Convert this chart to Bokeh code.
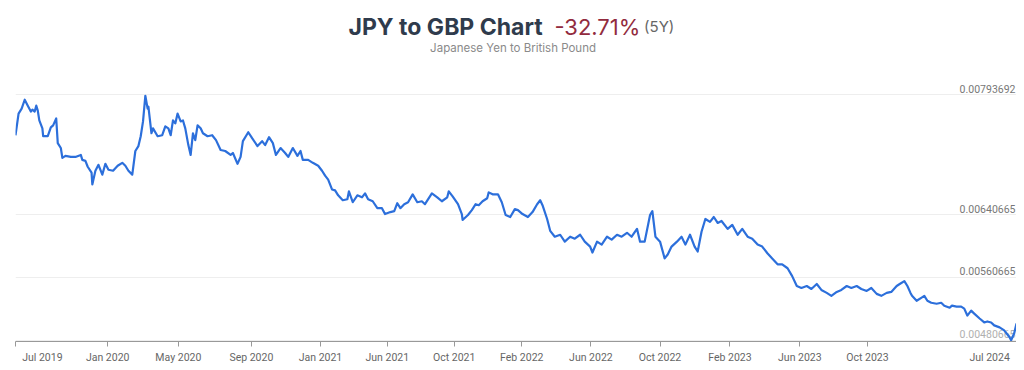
from bokeh.plotting import figure
from bokeh.models import Range1d, FixedTicker, Label, LinearAxis, ColumnDataSource, CustomLabelingPolicy
from bokeh.layouts import column
from bokeh.embed import file_html
from bokeh.resources import INLINE

# trading-day index and JPY->GBP rate
day_index = [0, 4, 8, 12, 16, 20, 22, 25, 27, 29, 31, 35, 36, 42, 46, 49, 53, 55, 59, 61,
             65, 72, 78, 85, 87, 91, 94, 99, 100, 104, 108, 113, 117, 121, 127, 133, 139, 143, 147, 152,
             156, 160, 163, 166, 169, 172, 173, 177, 179, 185, 191, 195, 199, 202, 205, 208, 211, 215, 218, 221,
             225, 228, 231, 234, 237, 241, 244, 250, 256, 261, 267, 273, 280, 283, 289, 293, 296, 303, 308, 315,
             321, 325, 330, 335, 339, 345, 351, 355, 361, 367, 371, 374, 381, 387, 394, 399, 403, 407, 412, 416,
             420, 426, 432, 434, 439, 445, 451, 455, 459, 465, 471, 477, 481, 488, 493, 497, 501, 506, 511, 517,
             523, 529, 533, 542, 549, 555, 562, 564, 569, 576, 581, 582, 589, 594, 599, 603, 608, 614, 616, 621,
             628, 633, 638, 644, 650, 654, 660, 667, 673, 679, 683, 686, 692, 696, 702, 709, 715, 722, 728, 735,
             741, 748, 751, 757, 763, 770, 776, 783, 789, 796, 802, 809, 813, 819, 826, 829, 833, 839, 845, 849,
             854, 861, 867, 872, 878, 884, 888, 893, 898, 904, 909, 914, 919, 927, 933, 940, 946, 953, 959, 966,
             972, 979, 985, 992, 998, 1005, 1011, 1017, 1023, 1030, 1036, 1043, 1049, 1056, 1062, 1069, 1075, 1082, 1088, 1095,
             1101, 1108, 1114, 1121, 1127, 1134, 1140, 1147, 1151, 1157, 1161, 1165, 1167, 1173, 1179, 1183, 1187, 1192, 1199, 1205,
             1209, 1216, 1219, 1225, 1231, 1235, 1239, 1244, 1248, 1255, 1261, 1265, 1270, 1274, 1281, 1287, 1294, 1296, 1300, 1303]

rate = [0.0074213, 0.0076978, 0.0077607, 0.0078738, 0.0077984, 0.0077229, 0.0077481, 0.0077229, 0.0077984, 0.0077355,
        0.0076098, 0.0075093, 0.0074087, 0.0074087, 0.0075218, 0.0075470, 0.0076350, 0.0073207, 0.0072579, 0.0071322,
        0.0071573, 0.0071447, 0.0071447, 0.0071699, 0.0071070, 0.0070944, 0.0070190, 0.0069436, 0.0067928, 0.0069687,
        0.0070442, 0.0069185, 0.0070567, 0.0069813, 0.0069687, 0.0070316, 0.0070693, 0.0070316, 0.0069687, 0.0069185,
        0.0072201, 0.0072830, 0.0074087, 0.0075972, 0.0079241, 0.0077607, 0.0077858, 0.0074464, 0.0075093, 0.0074087,
        0.0074213, 0.0075344, 0.0075093, 0.0074213, 0.0076098, 0.0075721, 0.0076978, 0.0075972, 0.0076098, 0.0075093,
        0.0072956, 0.0071699, 0.0074464, 0.0073584, 0.0075470, 0.0075093, 0.0074464, 0.0074087, 0.0074213, 0.0073584,
        0.0072327, 0.0072201, 0.0071699, 0.0071950, 0.0070567, 0.0071447, 0.0073458, 0.0074590, 0.0073836, 0.0072830,
        0.0073458, 0.0072956, 0.0073961, 0.0073207, 0.0071699, 0.0072579, 0.0071950, 0.0071447, 0.0072579, 0.0071573,
        0.0072201, 0.0071070, 0.0071070, 0.0070693, 0.0070316, 0.0069687, 0.0069059, 0.0068556, 0.0067299, 0.0067173,
        0.0066545, 0.0065916, 0.0066042, 0.0067048, 0.0065665, 0.0066545, 0.0066294, 0.0066796, 0.0066042, 0.0065791,
        0.0064911, 0.0064911, 0.0064157, 0.0064408, 0.0064534, 0.0065539, 0.0064911, 0.0065414, 0.0065665, 0.0066671,
        0.0065665, 0.0065791, 0.0065414, 0.0066796, 0.0066294, 0.0065791, 0.0066294, 0.0067048, 0.0066419, 0.0065414,
        0.0064157, 0.0063402, 0.0064031, 0.0064659, 0.0065414, 0.0065288, 0.0065791, 0.0066168, 0.0066922, 0.0066671,
        0.0066671, 0.0065665, 0.0064031, 0.0063780, 0.0064785, 0.0064659, 0.0064157, 0.0063780, 0.0064408, 0.0065414,
        0.0065916, 0.0065288, 0.0063528, 0.0062020, 0.0061266, 0.0061517, 0.0060637, 0.0061266, 0.0061014, 0.0061517,
        0.0060637, 0.0060009, 0.0059254, 0.0060637, 0.0060260, 0.0061266, 0.0060888, 0.0061517, 0.0061266, 0.0061768,
        0.0061266, 0.0062271, 0.0060637, 0.0060637, 0.0064031, 0.0064534, 0.0061266, 0.0060637, 0.0058500, 0.0059003,
        0.0060009, 0.0060637, 0.0061266, 0.0060260, 0.0061517, 0.0060009, 0.0059380, 0.0061894, 0.0063528, 0.0063151,
        0.0063780, 0.0063025, 0.0063277, 0.0062271, 0.0062774, 0.0061517, 0.0062271, 0.0061266, 0.0061014, 0.0060260,
        0.0060009, 0.0059129, 0.0058500, 0.0057746, 0.0057746, 0.0057243, 0.0056238, 0.0054981, 0.0054729, 0.0054981,
        0.0054603, 0.0055232, 0.0054478, 0.0054101, 0.0053724, 0.0054226, 0.0054478, 0.0054981, 0.0054729, 0.0054981,
        0.0054603, 0.0054352, 0.0054729, 0.0053975, 0.0053724, 0.0054101, 0.0054226, 0.0054981, 0.0055232, 0.0055609,
        0.0054981, 0.0054101, 0.0053724, 0.0053095, 0.0053472, 0.0053724, 0.0053095, 0.0052844, 0.0052718, 0.0052844,
        0.0052467, 0.0052215, 0.0052467, 0.0052341, 0.0052341, 0.0052089, 0.0051210, 0.0051838, 0.0051461, 0.0050832,
        0.0050330, 0.0050455, 0.0050330, 0.0049953, 0.0049701, 0.0049324, 0.0048444, 0.0048067, 0.0048947, 0.0050204]

# x-axis tick marks (trading-day index) and label positions / texts
xtick_days = [0, 120, 212, 307, 397, 484, 571, 659, 749, 839, 930, 1021, 1109, 1303]
xlabel_days = [35, 120, 212, 307, 397, 484, 571, 659, 749, 839, 930, 1021, 1109, 1268]
xlabel_texts = ["Jul 2019", "Jan 2020", "May 2020", "Sep 2020", "Jan 2021", "Jun 2021", "Oct 2021",
                "Feb 2022", "Jun 2022", "Oct 2022", "Feb 2023", "Jun 2023", "Oct 2023", "Jul 2024"]

# y-axis tick values
ytick_values = [0.00480665, 0.00560665, 0.00640665, 0.00793692]
ytick_labels = ["0.00480665", "0.00560665", "0.00640665", "0.00793692"]

title_main = "JPY to GBP Chart"
title_change = "-32.71%"
title_period = "(5Y)"
subtitle = "Japanese Yen to British Pound"

FONT = "Inter"
AXFONT = "Roboto"
W = 1016

# ---- title strip ----
t = figure(width=W, height=62, output_backend="svg", toolbar_location=None,
           x_range=Range1d(0, W), y_range=Range1d(62, 0),
           x_axis_location=None, y_axis_location=None,
           min_border_left=0, min_border_right=0, min_border_top=0, min_border_bottom=0)
t.outline_line_color = None
t.xgrid.visible = False
t.ygrid.visible = False
t.add_layout(Label(x=338, y=26, text=title_main, text_font=FONT, text_font_size="23px",
                   text_font_style="bold", text_color="#2f3b4c", text_baseline="alphabetic"))
t.add_layout(Label(x=547, y=26, text=title_change, text_font=FONT, text_font_size="22px",
                   text_color="#922b3e", text_baseline="alphabetic"))
t.add_layout(Label(x=638, y=26, text=title_period, text_font=FONT, text_font_size="15px",
                   text_color="#666666", text_baseline="alphabetic"))
t.add_layout(Label(x=505, y=47, text=subtitle, text_font=FONT, text_font_size="11.5px",
                   text_color="#8a8a8a", text_align="center", text_baseline="alphabetic"))

# ---- main chart ----
p = figure(width=W, height=304, output_backend="svg", toolbar_location=None,
           x_range=Range1d(0, 1303), y_range=Range1d(0.00479, 0.008247),
           y_axis_location=None, min_border_left=15, min_border_right=0,
           min_border_top=8, min_border_bottom=21)
p.outline_line_color = None
p.xgrid.visible = False
p.ygrid.ticker = FixedTicker(ticks=ytick_values)
p.ygrid.grid_line_color = "#eeeeee"

src = ColumnDataSource(dict(x=day_index, y=rate))
p.line("x", "y", source=src, line_color="#2c6fdb", line_width=2.2, line_join="round")

# axis 1: line + tick marks, labels suppressed
ax = p.xaxis[0]
ax.ticker = FixedTicker(ticks=xtick_days)
ax.major_label_policy = CustomLabelingPolicy(code="")
ax.major_label_text_font_size = "1px"
ax.major_label_standoff = 0
ax.minor_tick_line_color = None
ax.axis_line_color = "#999999"
ax.major_tick_line_color = "#999999"
ax.major_tick_out = 5
ax.major_tick_in = 0

# axis 2: labels only
ax2 = LinearAxis(ticker=FixedTicker(ticks=xlabel_days),
                 major_label_overrides={d: s for d, s in zip(xlabel_days, xlabel_texts)},
                 axis_line_color=None, major_tick_line_color=None, minor_tick_line_color=None,
                 major_tick_out=0, major_tick_in=0,
                 major_label_standoff=0, major_label_text_font=AXFONT,
                 major_label_text_font_size="10.5px", major_label_text_color="#666666")
p.add_layout(ax2, "below")

for v, l in zip(ytick_values, ytick_labels):
    p.add_layout(Label(x=1303, y=v, text=l, x_offset=-1, y_offset=2, text_align="right",
                       text_baseline="bottom", text_font=AXFONT, text_font_size="10.5px",
                       text_color="#b0b0b0" if v == min(ytick_values) else "#777777",
                       level="underlay"))

layout = column(t, p, spacing=0)
open("out.html", "w").write(file_html(layout, INLINE))
